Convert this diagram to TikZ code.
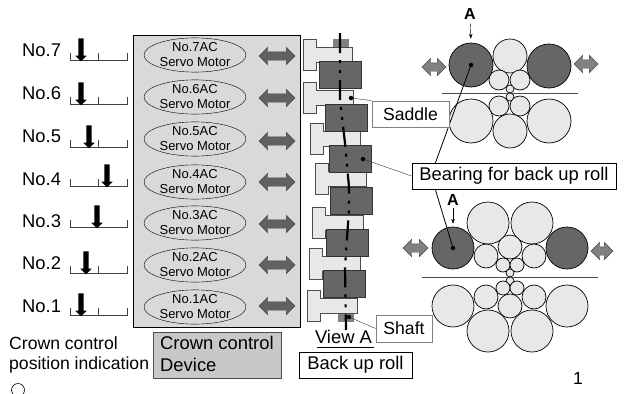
\documentclass[tikz,border=0pt]{standalone}
\usepackage{fontspec}
\setmainfont{Liberation Sans}
\usetikzlibrary{arrows.meta,shapes.arrows,shapes.geometric}
\definecolor{rolllight}{HTML}{E8E8E8}
\definecolor{rolldark}{HTML}{666666}
\definecolor{panelgray}{HTML}{D9D9D9}
\definecolor{devicegray}{HTML}{C8C8C8}
% T shaped saddle: left edge, top of flange, length of stem
\newcommand{\saddlepart}[3]{\draw[saddle] (#1,#2) -- ++(13,0) -- ++(0,8) -- ++(#3,0) -- ++(0,15) -- ++(-#3,0) -- ++(0,8) -- ++(-13,0) -- cycle;}
\newcommand{\scalebar}[1]{\draw[scaleline] (70,#1-7) -- (70,#1) -- (127,#1) -- (127,#1-7) (98,#1-7) -- (98,#1);}
\begin{document}
\begin{tikzpicture}[x=1pt,y=-1pt,>=Stealth]
\tikzstyle{lbl}=[inner sep=0pt,font=\fontsize{17.6}{22}\selectfont]
\tikzstyle{lblb}=[inner sep=0pt,font=\fontsize{18.4}{22}\selectfont]
\tikzstyle{motor}=[draw,ellipse,minimum width=102pt,minimum height=34pt,inner sep=0pt,align=center,font=\fontsize{13}{15}\selectfont]
\tikzstyle{twoway}=[draw=black!70,double arrow,double arrow head extend=4.5pt,minimum height=36pt,minimum width=17pt,inner xsep=0pt,inner ysep=4pt,fill=black!62]
\tikzstyle{pointer}=[single arrow,fill=black,single arrow head extend=3pt,minimum height=23pt,minimum width=11pt,inner sep=2.4pt,shape border rotate=270]
\tikzstyle{scaleline}=[line width=0.8pt,black!75]
\tikzstyle{saddle}=[draw=black!70,line width=0.9pt,fill=rolllight]
\tikzstyle{bearing}=[draw=black!80,line width=0.9pt,fill=rolldark,minimum width=42pt,minimum height=27pt,inner sep=0pt]
\tikzstyle{shaftpart}=[draw=black!50,fill=black!50,minimum width=15pt,minimum height=8pt,inner sep=0pt]
\tikzstyle{roll}=[draw,circle,fill=rolllight,inner sep=0pt,line width=0.7pt]
\tikzstyle{drive}=[roll,fill=rolldark]
\tikzstyle{dot}=[circle,fill=black,inner sep=0pt,minimum size=4.5pt]
\tikzstyle{tag}=[draw,fill=white,line width=0.8pt]
\clip (0,0) rectangle (625,394);
\useasboundingbox (0,0) rectangle (625,394);
% position indication
\node[lblb,anchor=west] (n7) at (22,50) {No.7}; \node[lblb,anchor=west] (n6) at (22,93) {No.6}; \node[lblb,anchor=west] (n5) at (22,136) {No.5}; \node[lblb,anchor=west] (n4) at (22,179) {No.4};
\node[lblb,anchor=west] (n3) at (22,221) {No.3}; \node[lblb,anchor=west] (n2) at (22,263) {No.2}; \node[lblb,anchor=west] (n1) at (22,306) {No.1};
\scalebar{60} \scalebar{104} \scalebar{147} \scalebar{186} \scalebar{227} \scalebar{273} \scalebar{315}
\node[pointer] (p7) at (81,48.5) {}; \node[pointer] (p6) at (81,92.5) {}; \node[pointer] (p5) at (89,135.5) {}; \node[pointer] (p4) at (107,174.5) {};
\node[pointer] (p3) at (97,215.5) {}; \node[pointer] (p2) at (86,261.5) {}; \node[pointer] (p1) at (81,303.5) {};
\node[lbl,anchor=west] (crown) at (9,343) {Crown control}; \node[lbl,anchor=west] (posn) at (9,365) {position indication};
\node[draw,circle,minimum size=13pt,inner sep=0pt,line width=0.6pt] (mark) at (18,390) {};
% servo motors
\node[draw,fill=panelgray,line width=0.8pt,minimum width=167pt,minimum height=292pt,inner sep=0pt,anchor=north west] (panel) at (133,35) {};
\node[motor] (m7) at (195,55) {No.7AC\\Servo Motor}; \node[motor] (m6) at (195,97) {No.6AC\\Servo Motor}; \node[motor] (m5) at (195,139) {No.5AC\\Servo Motor}; \node[motor] (m4) at (195,182) {No.4AC\\Servo Motor};
\node[motor] (m3) at (195,223) {No.3AC\\Servo Motor}; \node[motor] (m2) at (195,265) {No.2AC\\Servo Motor}; \node[motor] (m1) at (195,307) {No.1AC\\Servo Motor};
\node[twoway] (d7) at (277,56) {}; \node[twoway] (d6) at (277,98) {}; \node[twoway] (d5) at (277,141) {}; \node[twoway] (d4) at (277,182) {};
\node[twoway] (d3) at (277,224) {}; \node[twoway] (d2) at (277,265) {}; \node[twoway] (d1) at (277,306) {};
\node[draw=black!70,fill=devicegray,minimum width=128pt,minimum height=46pt,inner sep=0pt,anchor=north west] (device) at (153,332) {};
\node[lblb,anchor=west] (dv1) at (160,343) {Crown control}; \node[lblb,anchor=west] (dv2) at (160,365) {Device};
% view A
\node[shaftpart] (sh1) at (340.5,43) {}; \node[shaftpart] (sh2) at (345.5,317) {};
\saddlepart{303}{39}{36} \saddlepart{303}{82}{37} \saddlepart{310}{123}{37} \saddlepart{315}{163}{38} \saddlepart{312}{207}{38} \saddlepart{309}{248}{38} \saddlepart{307}{290}{37}
\node[bearing] (b1) at (340,74.5) {}; \node[bearing] (b2) at (346,117.5) {}; \node[bearing] (b3) at (350.5,159) {}; \node[bearing] (b4) at (351.5,200.5) {};
\node[bearing] (b5) at (347,242.5) {}; \node[bearing] (b6) at (344.5,284) {};
\coordinate (axtop) at (340,33); \coordinate (ax1) at (340,100); \coordinate (ax2) at (345,143); \coordinate (ax3) at (349,187); \coordinate (ax4) at (349,210); \coordinate (ax5) at (345,267); \coordinate (axend) at (346,330);
\draw[line width=2.2pt,dash pattern=on 20pt off 7pt on 3pt off 7pt on 3pt off 7pt] (axtop) -- (ax1) -- (ax2) -- (ax3) -- (ax4) -- (ax5) -- (axend);
\node[lblb,anchor=base] (viewa) at (343.5,343) {View A}; \coordinate (ul1) at (317,347); \coordinate (ul2) at (374,347); \draw[line width=0.8pt] (ul1) -- (ul2);
% upper stand
\node[drive,minimum size=44pt] (ta) at (471,65) {}; \node[drive,minimum size=44pt] (tb) at (549,66) {};
\node[roll,minimum size=34pt] (tc) at (510,56) {}; \node[roll,minimum size=20pt] (td) at (499,80) {}; \node[roll,minimum size=20pt] (te) at (520,80) {}; \node[roll,minimum size=8pt] (tf) at (510,89) {};
\node[roll,minimum size=8pt] (tg) at (510,97) {}; \node[roll,minimum size=20pt] (th) at (499,106) {}; \node[roll,minimum size=20pt] (ti) at (520,106) {};
\node[roll,minimum size=44pt] (tj) at (471,121) {}; \node[roll,minimum size=44pt] (tk) at (549,121) {}; \node[roll,minimum size=34pt] (tl) at (510,131) {};
\coordinate (ts1) at (442,93); \coordinate (ts2) at (578,93); \draw[black!70,line width=0.8pt] (ts1) -- (ts2);
\node[twoway,fill=black!50,minimum height=24pt] (tw1) at (434,67) {}; \node[twoway,fill=black!50,minimum height=24pt] (tw2) at (586,64) {};
\node[font=\fontsize{16}{18}\selectfont\bfseries,inner sep=0pt] (aa) at (470,14) {A};
% lower stand
\node[drive,minimum size=42pt] (la) at (453,248) {}; \node[drive,minimum size=42pt] (lb) at (567,248) {};
\node[roll,minimum size=42pt] (lc) at (488,223) {}; \node[roll,minimum size=42pt] (ld) at (532,223) {};
\node[roll,minimum size=24pt] (le) at (486,256) {}; \node[roll,minimum size=24pt] (lf) at (534,256) {}; \node[roll,minimum size=24pt] (lg) at (510,247) {};
\node[roll,minimum size=14pt] (lh) at (503,265) {}; \node[roll,minimum size=14pt] (li) at (517,265) {}; \node[roll,minimum size=8pt] (lj) at (510,273) {};
\node[roll,minimum size=8pt] (lk) at (510,281) {}; \node[roll,minimum size=14pt] (ll) at (503,288) {}; \node[roll,minimum size=14pt] (lm) at (517,288) {};
\node[roll,minimum size=24pt] (ln) at (486,297) {}; \node[roll,minimum size=24pt] (lo) at (534,297) {}; \node[roll,minimum size=24pt] (lp) at (510,306) {};
\node[roll,minimum size=42pt] (lq) at (453,306) {}; \node[roll,minimum size=42pt] (lr) at (567,306) {}; \node[roll,minimum size=42pt] (ls) at (488,331) {}; \node[roll,minimum size=42pt] (lt) at (532,331) {};
\coordinate (ls1) at (422,277); \coordinate (ls2) at (598,277); \draw[black!70,line width=0.8pt] (ls1) -- (ls2);
\node[twoway,fill=black!50,minimum height=25pt] (lw1) at (415.5,248) {}; \node[twoway,fill=black!50,minimum height=22pt] (lw2) at (602,251) {};
\node[font=\fontsize{16}{18}\selectfont\bfseries,inner sep=0pt] (ab) at (453,200) {A};
\draw[->,shorten >=4pt,shorten <=4pt] (aa) -- (ta.north); \draw[->,shorten >=3pt,shorten <=2pt] (ab) -- (la.north);
% leaders and tags
\node[dot] (dta) at (ta.center) {}; \node[dot] (dla) at (la.center) {};
\coordinate (bend) at (431,175);
\draw[line width=0.8pt] (dta) -- (bend) -- (dla);
\node[dot] (dsad) at (351,98) {}; \node[dot] (dbrg) at (363,159) {}; \node[dot] (dshf) at (349,317) {};
\node[tag,lbl,draw=black!50,minimum width=77pt,minimum height=26pt] (sadtag) at (410.5,114) {Saddle};
\node[tag,lblb,minimum width=204pt,minimum height=26pt] (brgtag) at (514,176) {Bearing for back up roll};
\node[tag,lbl,draw=black!50,minimum width=56pt,minimum height=27pt] (shftag) at (404,328.5) {Shaft};
\node[tag,lblb,minimum width=113pt,minimum height=26pt] (rolltag) at (355.5,365) {Back up roll};
\draw[black!80] (dsad) -- (sadtag.north west); \draw[black!80] (dbrg) -- (brgtag.west); \draw[black!80] (dshf) -- (shftag.west);
\node[lbl] (pg) at (578,378) {1};
\end{tikzpicture}
\end{document}
